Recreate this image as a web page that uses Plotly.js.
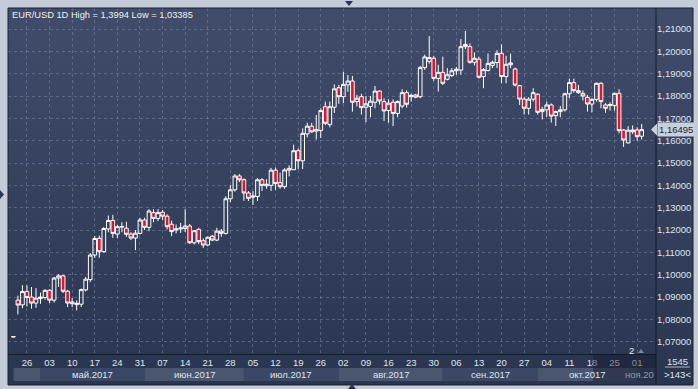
<!DOCTYPE html>
<html><head><meta charset="utf-8">
<script src="https://cdn.plot.ly/plotly-3.0.1.min.js"></script>
<style>html,body{margin:0;padding:0;background:#c3ccd8;overflow:hidden}#chart{width:698px;height:389px}</style>
</head><body><div id="chart"></div>
<script>
// ---------- data ----------
const firstDay = '2017-04-21';
const openP = [
1.0721,1.0886,1.0865,1.0925,1.0900,1.0873,1.0893,1.0898,1.0930,1.0886,
1.0985,1.0995,1.0926,1.0878,1.0866,1.0868,1.0932,1.0978,1.1088,1.1163,
1.1103,1.1205,1.1243,1.1182,1.1213,1.1208,1.1182,1.1164,1.1185,1.1245,
1.1212,1.1278,1.1252,1.1280,1.1262,1.1226,1.1200,1.1205,1.1207,1.1218,
1.1143,1.1203,1.1152,1.1133,1.1172,1.1155,1.1195,1.1185,1.1340,1.1380,
1.1442,1.1425,1.1366,1.1347,1.1350,1.1425,1.1398,1.1400,1.1468,1.1412,
1.1394,1.1468,1.1470,1.1555,1.1510,1.1630,1.1665,1.1643,1.1645,1.1752,
1.1672,1.1750,1.1837,1.1797,1.1850,1.1867,1.1775,1.1797,1.1750,1.1753,
1.1772,1.1822,1.1775,1.1735,1.1772,1.1722,1.1755,1.1815,1.1797,1.1805,
1.1797,1.1927,1.1955,1.1969,1.1879,1.1906,1.1875,1.1892,1.1913,1.1916,
1.2021,1.2021,1.1951,1.1965,1.1887,1.1914,1.1937,1.1950,1.1991,1.1887,
1.1940,1.1921,1.1846,1.1786,1.1745,1.1786,1.1808,1.1730,1.1738,1.1760,
1.1712,1.1730,1.1738,1.1810,1.1860,1.1824,1.1812,1.1794,1.1764,1.1785,
1.1857,1.1760,1.1757,1.1757,1.1812,1.1648,1.1590,1.1640,1.1648,1.1620];
const highP = [
1.0724,1.0906,1.0953,1.0952,1.0945,1.0940,1.0920,1.0935,1.0935,1.0990,
1.1003,1.1000,1.0932,1.0895,1.0885,1.0938,1.0990,1.1097,1.1173,1.1175,
1.1213,1.1265,1.1268,1.1222,1.1235,1.1237,1.1190,1.1200,1.1255,1.1255,
1.1293,1.1293,1.1293,1.1290,1.1270,1.1242,1.1225,1.1232,1.1293,1.1227,
1.1200,1.1210,1.1162,1.1170,1.1178,1.1210,1.1205,1.1352,1.1401,1.1450,
1.1450,1.1432,1.1374,1.1374,1.1432,1.1432,1.1428,1.1478,1.1480,1.1457,
1.1477,1.1490,1.1582,1.1565,1.1655,1.1680,1.1680,1.1715,1.1745,1.1775,
1.1775,1.1852,1.1850,1.1909,1.1894,1.1890,1.1805,1.1810,1.1800,1.1800,
1.1845,1.1825,1.1790,1.1785,1.1785,1.1780,1.1830,1.1825,1.1810,1.1810,
1.1935,1.1985,1.2068,1.1980,1.1940,1.1976,1.1925,1.1925,1.1930,1.2055,
1.2091,1.2035,1.1995,1.1975,1.1925,1.1990,1.1958,1.2005,1.2031,1.1980,
1.1990,1.1927,1.1850,1.1795,1.1795,1.1835,1.1812,1.1752,1.1775,1.1767,
1.1735,1.1755,1.1815,1.1878,1.1878,1.1850,1.1825,1.1805,1.1790,1.1860,
1.1862,1.1768,1.1772,1.1815,1.1830,1.1652,1.1665,1.1668,1.1660,1.1675];
const lowP = [
1.0720,1.0822,1.0850,1.0858,1.0848,1.0852,1.0870,1.0888,1.0873,1.0875,
1.0945,1.0918,1.0855,1.0855,1.0840,1.0855,1.0925,1.0967,1.1075,1.1076,
1.1098,1.1190,1.1165,1.1164,1.1190,1.1170,1.1155,1.1110,1.1180,1.1200,
1.1195,1.1235,1.1240,1.1245,1.1203,1.1173,1.1185,1.1187,1.1191,1.1138,
1.1135,1.1137,1.1120,1.1127,1.1150,1.1150,1.1170,1.1180,1.1325,1.1372,
1.1415,1.1331,1.1330,1.1312,1.1330,1.1375,1.1385,1.1375,1.1380,1.1385,
1.1385,1.1440,1.1470,1.1472,1.1473,1.1615,1.1635,1.1605,1.1612,1.1670,
1.1660,1.1724,1.1765,1.1768,1.1819,1.1730,1.1753,1.1717,1.1683,1.1705,
1.1745,1.1762,1.1688,1.1680,1.1665,1.1705,1.1745,1.1748,1.1775,1.1790,
1.1790,1.1917,1.1945,1.1868,1.1820,1.1849,1.1870,1.1885,1.1895,1.1895,
1.2010,1.1945,1.1937,1.1878,1.1835,1.1910,1.1925,1.1925,1.1857,1.1857,
1.1925,1.1843,1.1760,1.1717,1.1717,1.1775,1.1717,1.1695,1.1707,1.1681,
1.1666,1.1705,1.1730,1.1790,1.1815,1.1810,1.1780,1.1730,1.1727,1.1775,
1.1745,1.1725,1.1735,1.1735,1.1633,1.1572,1.1588,1.1630,1.1600,1.1605];
const closeP = [
1.0723,1.0864,1.0925,1.0898,1.0873,1.0895,1.0900,1.0930,1.0886,1.0985,
1.0995,1.0926,1.0873,1.0870,1.0872,1.0933,1.0980,1.1088,1.1162,1.1103,
1.1207,1.1243,1.1185,1.1215,1.1216,1.1181,1.1164,1.1186,1.1245,1.1212,
1.1285,1.1252,1.1278,1.1262,1.1215,1.1193,1.1205,1.1209,1.1218,1.1143,
1.1197,1.1148,1.1133,1.1168,1.1155,1.1195,1.1185,1.1340,1.1380,1.1442,
1.1425,1.1366,1.1342,1.1352,1.1425,1.1400,1.1405,1.1468,1.1408,1.1394,
1.1469,1.1476,1.1555,1.1510,1.1633,1.1665,1.1640,1.1650,1.1735,1.1678,
1.1752,1.1832,1.1797,1.1852,1.1867,1.1772,1.1790,1.1748,1.1765,1.1777,
1.1822,1.1778,1.1733,1.1768,1.1722,1.1775,1.1815,1.1763,1.1803,1.1795,
1.1927,1.1975,1.1972,1.1879,1.1906,1.1857,1.1895,1.1913,1.1920,1.2021,
1.2031,1.1951,1.1969,1.1884,1.1918,1.1946,1.1951,1.1991,1.1887,1.1942,
1.1948,1.1849,1.1786,1.1745,1.1786,1.1815,1.1727,1.1740,1.1760,1.1710,
1.1730,1.1738,1.1810,1.1860,1.1824,1.1815,1.1800,1.1764,1.1785,1.1857,
1.1775,1.1745,1.1762,1.1812,1.1645,1.1603,1.1647,1.1648,1.1618,1.16495];
const dayTickDates = ['2017-04-26','2017-05-03','2017-05-10','2017-05-17','2017-05-24','2017-05-31',
'2017-06-07','2017-06-14','2017-06-21','2017-06-28','2017-07-05','2017-07-12','2017-07-19','2017-07-26',
'2017-08-02','2017-08-09','2017-08-16','2017-08-23','2017-08-30','2017-09-06','2017-09-13','2017-09-20',
'2017-09-27','2017-10-04','2017-10-11','2017-10-18','2017-10-25','2017-11-01'];
const dayTickText = ['26','03','10','17','24','31','07','14','21','28','05','12','19','26',
'02','09','16','23','30','06','13','20','27','04','11','18','25','01'];
const monthKeys = ['2017-04','2017-05','2017-06','2017-07','2017-08','2017-09','2017-10','2017-11'];
const monthText = ['','май.2017','июн.2017','июл.2017','авг.2017','сен.2017','окт.2017','ноя.20'];
const titleText = 'EUR/USD 1D High = 1,3994 Low = 1,03385';
const lastPrice = 1.16495;
const cornerTop = '1545', cornerBottom = '>143<', pageMark = '2';

// ---------- build ----------
function tradingDays(start, n){
  const out=[]; const d=new Date(start+'T00:00:00Z');
  while(out.length<n){ const w=d.getUTCDay(); if(w!==0&&w!==6) out.push(d.toISOString().slice(0,10)); d.setUTCDate(d.getUTCDate()+1); }
  return out;
}
const dates = tradingDays(firstDay, openP.length);
const PX = p => (p-8)/648, PY = p => (354-p)/346;
const txt = '#dfe5ef', fontFam = '"Liberation Sans", Arial, sans-serif';

const grad = "<svg xmlns='http://www.w3.org/2000/svg' width='10' height='100' viewBox='0 0 10 100' preserveAspectRatio='none'><defs><linearGradient id='g' x1='0' y1='0' x2='0' y2='1'><stop offset='0' stop-color='#404c6a'/><stop offset='1' stop-color='#2a3550'/></linearGradient></defs><rect width='10' height='100' fill='url(#g)'/></svg>";

const shapes = [];
const annotations = [];
// month bands
const mStart = monthKeys.map(k => dates.findIndex(d => d.startsWith(k)));
monthKeys.forEach((k,i)=>{
  const x0 = mStart[i], x1 = (i+1<monthKeys.length) ? mStart[i+1] : dates.length+3;
  shapes.push({type:'rect', xref:'x', yref:'paper', x0:x0, x1:x1, y0:PY(381), y1:PY(368),
    fillcolor: i%2===0 ? '#4a5570' : '#3b4865', line:{width:0}, layer:'below'});
  if (monthText[i]) {
    if (i === monthKeys.length-1) {
      annotations.push({xref:'paper', yref:'paper', x:1, y:PY(374.5), xanchor:'right', yanchor:'middle',
        text:monthText[i], showarrow:false, font:{size:9.5, color:'#8d97aa', family:fontFam}});
    } else {
      annotations.push({xref:'x', yref:'paper', x:(x0+x1)/2, y:PY(374.5), xanchor:'center', yanchor:'middle',
        text:monthText[i], showarrow:false, font:{size:9.5, color:txt, family:fontFam}});
    }
  }
});
// frame lines
shapes.push({type:'line', xref:'paper', yref:'paper', x0:1, x1:1, y0:PY(385), y1:1, line:{color:'#141a28', width:1}, layer:'above'});
shapes.push({type:'rect', xref:'paper', yref:'paper', x0:0, x1:PX(693), y0:PY(385), y1:1, line:{color:'#1a2131', width:1}, layer:'above'});
// scroll overlay
shapes.push({type:'rect', xref:'paper', yref:'paper', x0:PX(593), x1:1, y0:PY(381), y1:PY(355), fillcolor:'rgba(18,25,42,0.45)', line:{width:0}, layer:'above'});
// corner rule
shapes.push({type:'line', xref:'paper', yref:'paper', x0:PX(665), x1:PX(690), y0:PY(367), y1:PY(367), line:{color:'#aab4c6', width:1}, layer:'above'});
// UI triangles
const tri = (pts) => 'M ' + pts.map(p => PX(p[0])+','+PY(p[1])).join(' L ') + ' Z';
shapes.push({type:'path', xref:'paper', yref:'paper', path:tri([[345,1],[353,1],[349,6]]), fillcolor:'#2a3550', line:{width:0}});
shapes.push({type:'path', xref:'paper', yref:'paper', path:tri([[348,389],[356,389],[352,384]]), fillcolor:'#2a3550', line:{width:0}});
shapes.push({type:'path', xref:'paper', yref:'paper', path:tri([[0,190],[0,199],[4,194.5]]), fillcolor:'#2a3550', line:{width:0}});
shapes.push({type:'path', xref:'paper', yref:'paper', path:tri([[638,353],[644,353],[641,349]]), fillcolor:'#7c869a', line:{width:0}});
// last price arrow
const h = 6/2233;
shapes.push({type:'path', xref:'paper', yref:'y',
  path:'M '+PX(651)+','+lastPrice+' L '+PX(657)+','+(lastPrice+h)+' L '+PX(657)+','+(lastPrice-h)+' Z',
  fillcolor:'#c8d0dc', line:{width:0}, layer:'above'});

annotations.push({xref:'paper', yref:'paper', x:PX(10), y:PY(15), xanchor:'left', yanchor:'middle',
  text:titleText, showarrow:false, font:{size:9.3, color:'#eef1f6', family:fontFam}});
annotations.push({xref:'paper', yref:'y', x:PX(657), y:lastPrice, xanchor:'left', yanchor:'middle',
  text:lastPrice.toFixed(5).replace('.',','), showarrow:false, bgcolor:'#c8d0dc', borderpad:1,
  font:{size:9.5, color:'#1b2538', family:fontFam}});
annotations.push({xref:'paper', yref:'paper', x:PX(631.5), y:PY(350), xanchor:'center', yanchor:'middle',
  text:pageMark, showarrow:false, font:{size:9.5, color:'#e6ebf3', family:fontFam}});
annotations.push({xref:'paper', yref:'paper', x:PX(677), y:PY(361), xanchor:'center', yanchor:'middle',
  text:cornerTop, showarrow:false, font:{size:9.5, color:txt, family:fontFam}});
annotations.push({xref:'paper', yref:'paper', x:PX(677), y:PY(374), xanchor:'center', yanchor:'middle',
  text:cornerBottom, showarrow:false, font:{size:9.5, color:txt, family:fontFam}});

const trace = {
  type:'candlestick', x:dates, open:openP, high:highP, low:lowP, close:closeP,
  increasing:{line:{color:'#ffffff', width:1}, fillcolor:'rgba(0,0,0,0)'},
  decreasing:{line:{color:'#ffffff', width:1}, fillcolor:'#e8102c'},
  whiskerwidth:0, hoverinfo:'skip'
};
const layout = {
  width:698, height:389, margin:{l:8, r:42, t:8, b:35, pad:0},
  paper_bgcolor:'#c3ccd8', plot_bgcolor:'rgba(0,0,0,0)', separators:', ',
  boxgap:0.1, boxgroupgap:0.1,
  showlegend:false, font:{family:fontFam, size:9.5, color:txt},
  images:[{source:'data:image/svg+xml;charset=utf-8,'+encodeURIComponent(grad), xref:'paper', yref:'paper',
    x:0, y:1, sizex:PX(693), sizey:1-PY(385), xanchor:'left', yanchor:'top', sizing:'stretch', layer:'below'}],
  xaxis:{type:'category', range:[-1.195, 142.17], tickmode:'array', tickvals:dayTickDates, ticktext:dayTickText,
    showgrid:true, gridcolor:'rgba(125,140,170,0.5)', griddash:'3px,3px', gridwidth:1,
    showline:true, linecolor:'#141a28', linewidth:1, ticks:'', zeroline:false,
    tickfont:{size:9.5, color:txt, family:fontFam}, rangeslider:{visible:false}, fixedrange:true},
  yaxis:{side:'right', range:[1.0645, 1.2194], tick0:1.07, dtick:0.01, tickformat:'.5f',
    showgrid:true, gridcolor:'rgba(125,140,170,0.5)', griddash:'3px,3px', gridwidth:1,
    showline:false, ticks:'', zeroline:false, tickfont:{size:9.5, color:txt, family:fontFam}, fixedrange:true},
  shapes:shapes, annotations:annotations
};
Plotly.newPlot('chart', [trace], layout, {displayModeBar:false, staticPlot:true});
</script></body></html>
